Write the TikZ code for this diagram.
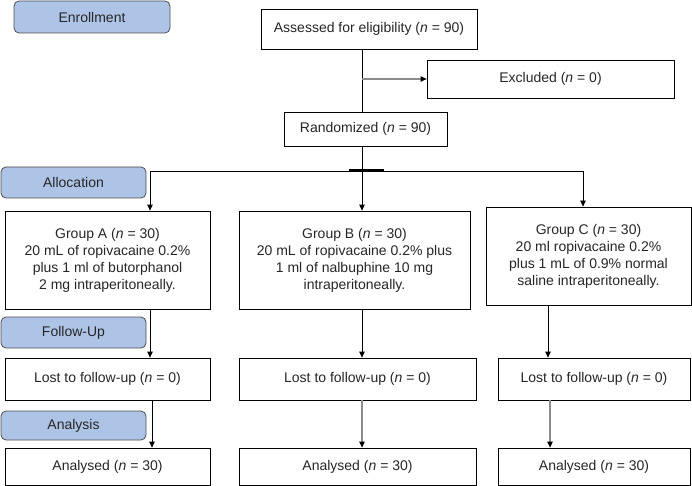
\documentclass[tikz,border=0pt]{standalone}
\usepackage{fontspec}
\setmainfont{Liberation Sans}
\usetikzlibrary{arrows.meta}
\definecolor{phaseblue}{RGB}{174,196,231}

\begin{document}
\begin{tikzpicture}[x=1pt, y=-1pt,
    font=\fontsize{14}{17}\selectfont,
    box/.style={draw, line width=0.8pt, align=center, inner sep=0pt, text=black!85},
    phase/.style={draw=black!70, fill=phaseblue, rounded corners=5pt, line width=0.8pt,
        minimum width=145pt, inner sep=0pt, text=black!85},
    arr/.style={-{Triangle[width=5.5pt,length=6pt]}, line width=0.8pt},
    grayarr/.style={-{Triangle[width=5.5pt,length=6pt,black]}, line width=1.1pt, draw=black!45}]

    \useasboundingbox (0,0) rectangle (692,486);

    % Les étapes
    \node[phase, minimum width=156pt, minimum height=32pt] (enroll) at (92,17) {Enrollment};
    \node[phase, minimum height=31pt] (alloc) at (73.5,182.5) {Allocation};
    \node[phase, minimum height=31pt] (follow) at (73.5,332.5) {Follow-Up};
    \node[phase, minimum height=29pt] (analysis) at (73.5,425.5) {Analysis};

    % Les boîtes
    \node[box, minimum width=216pt, minimum height=40pt] (assess) at (369,29) {Assessed for eligibility (\textit{n} = 90)};
    \node[box, minimum width=247pt, minimum height=38pt] (excl) at (550.5,79) {Excluded (\textit{n} = 0)};
    \node[box, minimum width=163pt, minimum height=34pt] (rand) at (365.5,129) {Randomized (\textit{n} = 90)};

    \node[box, minimum width=205pt, minimum height=98pt] (grpA) at (107.5,260)
        {Group A (\textit{n} = 30)\\20 mL of ropivacaine 0.2\%\\plus 1 ml of butorphanol\\2 mg intraperitoneally.};
    \node[box, minimum width=231pt, minimum height=98pt] (grpB) at (354.5,260)
        {Group B (\textit{n} = 30)\\20 mL of ropivacaine 0.2\% plus\\1 ml of nalbuphine 10 mg\\intraperitoneally.};
    \node[box, minimum width=205pt, minimum height=98pt] (grpC) at (588.5,256)
        {Group C (\textit{n} = 30)\\20 ml ropivacaine 0.2\%\\plus 1 mL of 0.9\% normal\\saline intraperitoneally.};

    \node[box, minimum width=205pt, minimum height=42pt] (lostA) at (107.5,379) {Lost to follow-up (\textit{n} = 0)};
    \node[box, minimum width=237pt, minimum height=42pt] (lostB) at (357.5,379) {Lost to follow-up (\textit{n} = 0)};
    \node[box, minimum width=192pt, minimum height=42pt] (lostC) at (594,379) {Lost to follow-up (\textit{n} = 0)};

    \node[box, minimum width=205pt, minimum height=37pt] (anA) at (107.5,466.5) {Analysed (\textit{n} = 30)};
    \node[box, minimum width=237pt, minimum height=37pt] (anB) at (357.5,466.5) {Analysed (\textit{n} = 30)};
    \node[box, minimum width=192pt, minimum height=37pt] (anC) at (594,466.5) {Analysed (\textit{n} = 30)};

    % colonnes des flèches
    \coordinate (mid) at (362,171);
    \coordinate (colA) at (150,171);
    \coordinate (colC) at (583,171);
    \coordinate (colA2) at (152,0);
    \coordinate (colC2) at (548,0);
    \coordinate (colC3) at (550,0);

    \draw[line width=0.8pt] (assess.south -| mid) -- (rand.north -| mid);
    \draw[grayarr] (mid |- excl.west) -- (excl.west);
    \draw[line width=0.8pt] (rand.south -| mid) -- (mid);
    \draw[line width=0.8pt] (colA) -- (colC);
    \draw[line width=2pt] (349,170) -- (384,170);
    \draw[arr] (colA) -- (grpA.north -| colA);
    \draw[arr] (mid) -- (grpB.north -| mid);
    \draw[arr] (colC) -- (grpC.north -| colC);

    \draw[arr] (grpA.south -| colA) -- (lostA.north -| colA);
    \draw[arr] (grpB.south -| mid) -- (lostB.north -| mid);
    \draw[arr] (grpC.south -| colC2) -- (lostC.north -| colC2);

    \draw[arr] (lostA.south -| colA2) -- (anA.north -| colA2);
    \draw[grayarr] (lostB.south -| mid) -- (anB.north -| mid);
    \draw[grayarr] (lostC.south -| colC3) -- (anC.north -| colC3);
\end{tikzpicture}
\end{document}
